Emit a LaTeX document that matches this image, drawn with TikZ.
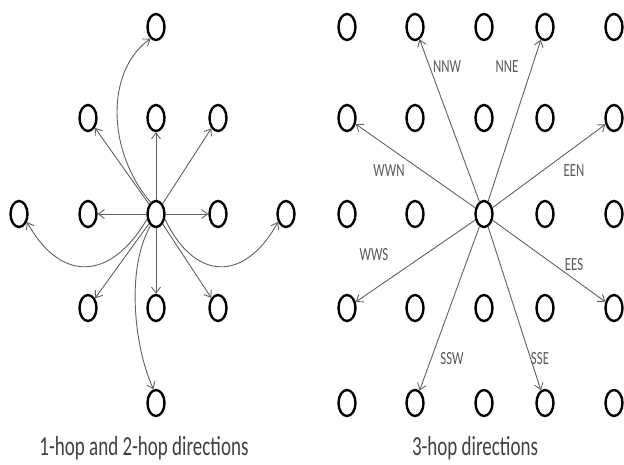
\documentclass[tikz,border=0pt]{standalone}
\usepackage{fontspec}
\setmainfont{Carlito}
\usepackage{graphicx}
\usetikzlibrary{arrows.meta,shapes.geometric}
\newcommand\tall[1]{\scalebox{1}[1.45]{#1}}
\tikzset{
	dot/.style={draw,ellipse,line width=2.4pt,inner sep=0pt,minimum width=17pt,minimum height=26pt},
	hop/.style={draw=black!62,line width=0.9pt,-{Straight Barb[length=6pt,width=9pt]}},
	dirlabel/.style={text=black!65,font=\fontsize{12.8}{14}\selectfont,inner sep=0pt},
	caption/.style={text=black!75,font=\fontsize{19}{21}\selectfont,inner sep=0pt}
}
\begin{document}
\begin{tikzpicture}[x=1pt,y=-1pt]
	\useasboundingbox (0,0) rectangle (624,464);
	% left: 1-hop and 2-hop
	\foreach \x[count=\c] in {19,88,156,218,286} \node[dot] (m\c) at (\x,214) {};
	\foreach \x[count=\c] in {88,156,218} {
		\node[dot] (u\c) at (\x,118) {};
		\node[dot] (d\c) at (\x,308) {};
	}
	\node[dot] (top) at (156,27) {};
	\node[dot] (bot) at (156,403) {};
	\foreach \t in {m2,m4,u1,u2,u3,d1,d2,d3} \draw[hop] (m3) -- (\t);
	\draw[hop] (m3.115) .. controls (106,150) and (106,70) .. (top.245);
	\draw[hop] (m3.-115) .. controls (125,270) and (135,350) .. (bot.100);
	\draw[hop] (m3.-150) .. controls (110,282) and (60,282) .. (m1.-45);
	\draw[hop] (m3.-30) .. controls (195,282) and (245,282) .. (m5.-135);
	\node[caption] (capL) at (144,448) {\tall{1-hop and 2-hop directions}};
	% right: 3-hop
	\foreach \y[count=\r] in {27,118,214,308,403}
		\foreach \x[count=\c] in {347,415,484,545,614}
			\node[dot] (g\r\c) at (\x,\y) {};
	\foreach \t/\lab/\lx/\ly in {g12/NNW/447/67, g14/NNE/507/67, g21/WWN/389/171, g25/EEN/574/171,
		g41/WWS/374/255, g45/EES/574/265, g52/SSW/452/359, g54/SSE/540/359} {
		\draw[hop] (g33) -- (\t);
		\node[dirlabel] (l\lab) at (\lx,\ly) {\tall{\lab}};
	}
	\node[caption] (capR) at (475,448) {\tall{3-hop directions}};
\end{tikzpicture}
\end{document}
